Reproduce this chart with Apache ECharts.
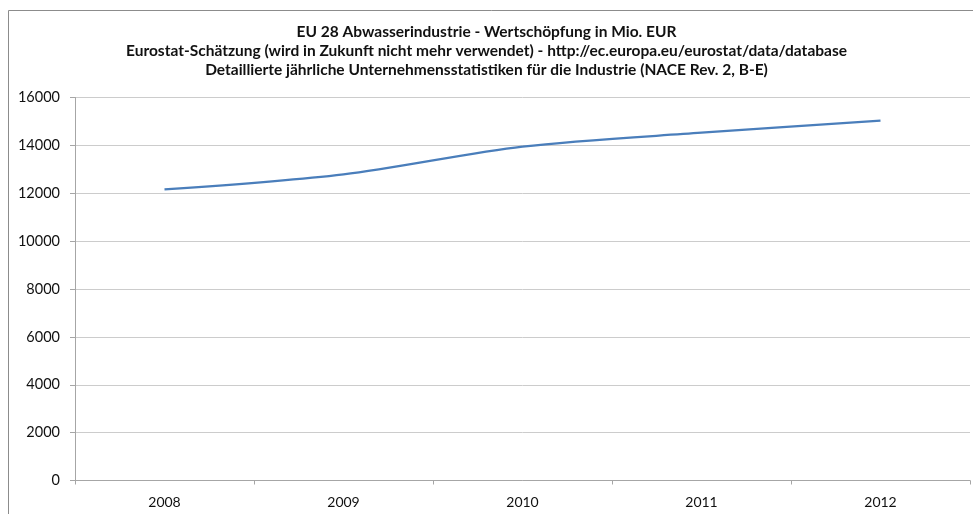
<!DOCTYPE html>
<html>
<head>
<meta charset="utf-8">
<script src="https://cdn.jsdelivr.net/npm/echarts@6/dist/echarts.min.js"></script>
<style>
  html, body { margin: 0; padding: 0; background: #ffffff; }
  #chart { width: 973px; height: 514px; }
</style>
</head>
<body>
<div id="chart"></div>
<script>
// Wertschöpfung der Abwasserindustrie (EU 28), Mio. EUR
const years = ['2008', '2009', '2010', '2011', '2012'];
const valueAdded = [12160, 12790, 13950, 14530, 15030];
const titleLines = [
  'EU 28 Abwasserindustrie - Wertschöpfung in Mio. EUR',
  'Eurostat-Schätzung (wird in Zukunft nicht mehr verwendet) - http://ec.europa.eu/eurostat/data/database',
  'Detaillierte jährliche Unternehmensstatistiken für die Industrie (NACE Rev. 2, B-E)'
];

const font = 'Lato, "Open Sans", sans-serif';
const chart = echarts.init(document.getElementById('chart'), null, { renderer: 'canvas' });

chart.setOption({
  animation: false,
  backgroundColor: '#ffffff',
  graphic: [{
    type: 'rect',
    shape: { x: 8.5, y: 10.5, width: 1000, height: 600 },
    style: { fill: 'none', stroke: '#8c8c8c', lineWidth: 1 },
    silent: true,
    z: -1
  }],
  title: {
    text: titleLines.join('\n'),
    left: 'center',
    top: 17,
    textStyle: {
      fontFamily: font,
      fontSize: 15.5,
      fontWeight: 'bold',
      color: '#111111',
      lineHeight: 19
    }
  },
  grid: { left: 75, right: 3, top: 97.5, bottom: 33.5 },
  xAxis: {
    type: 'category',
    data: years,
    boundaryGap: true,
    axisLine: { lineStyle: { color: '#a6a6a6', width: 1 } },
    axisTick: { show: true, alignWithLabel: false, length: 4, lineStyle: { color: '#a6a6a6' } },
    axisLabel: { fontFamily: font, fontSize: 14, color: '#111111', margin: 15 },
    splitLine: { show: false }
  },
  yAxis: {
    type: 'value',
    min: 0,
    max: 16000,
    interval: 2000,
    axisLine: { show: true, lineStyle: { color: '#a6a6a6', width: 1 } },
    axisTick: { show: true, length: 5, lineStyle: { color: '#a6a6a6' } },
    axisLabel: {
      fontFamily: font,
      fontSize: 14.5,
      color: '#111111',
      margin: 15,
      formatter: (v) => String(v)
    },
    splitLine: { show: true, lineStyle: { color: '#cccccc', width: 1 } }
  },
  series: [{
    type: 'line',
    data: valueAdded,
    smooth: 0.3,
    showSymbol: false,
    lineStyle: { color: '#4a7ebb', width: 2.25 },
    itemStyle: { color: '#4a7ebb' }
  }]
});
</script>
</body>
</html>
